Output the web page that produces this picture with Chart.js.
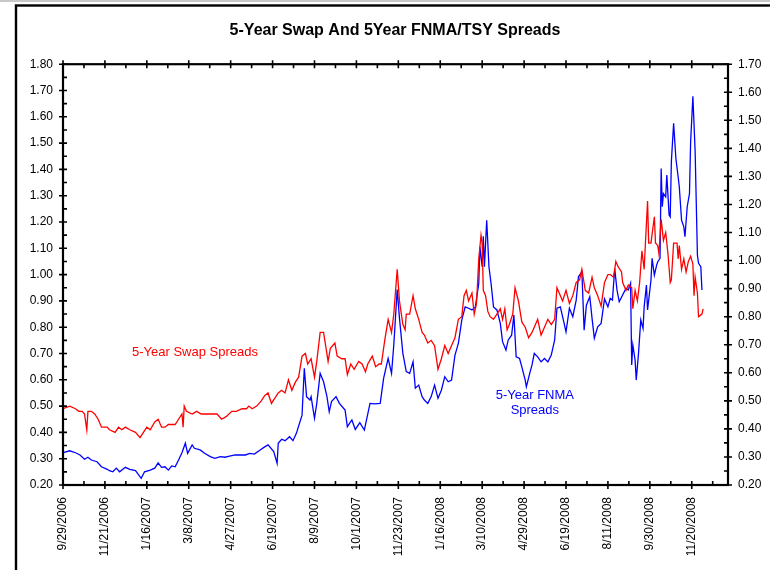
<!DOCTYPE html>
<html>
<head>
<meta charset="utf-8">
<title>5-Year Swap And 5Year FNMA/TSY Spreads</title>
<script src="https://cdn.jsdelivr.net/npm/chart.js@4.4.1/dist/chart.umd.min.js"></script>
<style>
  html, body { margin: 0; padding: 0; background: #fff; }
  #wrap { width: 770px; height: 570px; }
</style>
</head>
<body>
<div id="wrap"><canvas id="line-chart" width="770" height="570"></canvas></div>
<script>
// x = trading days since 9/29/2006, one label every 37 days
var tickStep = 37;
var dateLabels = ['9/29/2006', '11/21/2006', '1/16/2007', '3/8/2007', '4/27/2007', '6/19/2007',
  '8/9/2007', '10/1/2007', '11/23/2007', '1/16/2008', '3/10/2008', '4/29/2008',
  '6/19/2008', '8/11/2008', '9/30/2008', '11/20/2008'];
var leftTicks = [0.20, 0.30, 0.40, 0.50, 0.60, 0.70, 0.80, 0.90, 1.00, 1.10, 1.20, 1.30, 1.40, 1.50, 1.60, 1.70, 1.80];
var rightTicks = [0.20, 0.30, 0.40, 0.50, 0.60, 0.70, 0.80, 0.90, 1.00, 1.10, 1.20, 1.30, 1.40, 1.50, 1.60, 1.70];

// 5-Year swap spreads (left axis)
var swapSpread = [
  [0,0.49],[6,0.50],[11,0.49],[14,0.48],[17,0.48],[19,0.47],[21,0.41],[22,0.48],[25,0.48],[28,0.47],
  [31,0.45],[34,0.42],[39,0.42],[41,0.41],[46,0.40],[49,0.42],[52,0.41],[55,0.42],[59,0.41],[64,0.40],
  [68,0.38],[71,0.40],[74,0.42],[77,0.41],[81,0.44],[84,0.45],[87,0.42],[90,0.42],[93,0.43],[96,0.43],
  [99,0.43],[102,0.45],[105,0.47],[106,0.42],[107,0.50],[109,0.48],[114,0.47],[118,0.48],[122,0.47],[127,0.47],
  [131,0.47],[136,0.47],[140,0.45],[144,0.46],[149,0.48],[153,0.48],[158,0.49],[162,0.49],[164,0.50],[167,0.49],
  [171,0.50],[175,0.52],[178,0.54],[181,0.55],[184,0.51],[187,0.53],[190,0.55],[193,0.56],[196,0.55],[199,0.60],
  [202,0.56],[205,0.59],[208,0.61],[211,0.69],[214,0.70],[216,0.66],[219,0.68],[222,0.61],[224,0.67],[227,0.78],
  [230,0.78],[234,0.67],[236,0.72],[240,0.74],[242,0.69],[246,0.68],[249,0.68],[251,0.62],[254,0.66],[257,0.64],
  [261,0.67],[264,0.66],[267,0.63],[269,0.66],[273,0.69],[276,0.65],[279,0.66],[281,0.66],[284,0.75],[287,0.83],
  [290,0.78],[292,0.85],[295,1.02],[297,0.90],[300,0.81],[302,0.79],[303,0.85],[306,0.85],[309,0.92],[311,0.87],
  [314,0.83],[317,0.78],[319,0.77],[322,0.74],[325,0.75],[328,0.73],[331,0.64],[334,0.68],[337,0.73],[340,0.70],
  [343,0.73],[346,0.76],[349,0.83],[352,0.84],[354,0.92],[356,0.94],[358,0.90],[361,0.93],[363,0.85],[365,0.89],
  [367,1.06],[369,1.15],[370,1.12],[371,0.94],[373,0.92],[375,0.86],[377,0.84],[380,0.83],[383,0.85],[386,0.87],
  [388,0.83],[390,0.87],[392,0.79],[394,0.81],[397,0.85],[399,0.95],[402,0.90],[405,0.82],[408,0.80],[411,0.76],
  [414,0.78],[416,0.80],[419,0.83],[422,0.77],[425,0.80],[428,0.83],[431,0.81],[434,0.83],[436,0.95],[438,0.93],
  [441,0.90],[444,0.94],[447,0.89],[450,0.92],[453,0.97],[456,0.98],[458,1.02],[461,0.94],[464,0.93],[467,0.99],
  [469,0.95],[472,0.92],[475,0.88],[478,0.97],[481,1.00],[483,1.00],[486,0.99],[488,1.05],[490,1.03],[493,1.01],
  [494,0.97],[497,0.94],[499,0.96],[502,0.95],[503,0.87],[505,0.94],[507,0.90],[509,0.97],[511,1.09],[513,1.02],
  [514,1.11],[516,1.28],[517,1.12],[519,1.12],[522,1.22],[523,1.12],[525,1.11],[526,1.08],[528,1.21],[530,1.13],
  [532,1.16],[534,1.08],[536,0.97],[537,0.98],[539,1.12],[542,1.12],[543,1.06],[544,1.11],[546,1.02],[548,1.06],
  [550,1.01],[552,1.05],[554,1.07],[556,1.04],[557,0.92],[558,0.99],[560,0.93],[561,0.84],[564,0.85],[565,0.87]
];

// 5-Year FNMA spreads (right axis)
var fnmaSpread = [
  [0,0.315],[6,0.322],[11,0.315],[15,0.307],[19,0.292],[22,0.299],[25,0.289],[30,0.283],[34,0.265],[39,0.256],
  [41,0.251],[44,0.247],[47,0.26],[50,0.247],[55,0.263],[59,0.256],[64,0.251],[69,0.224],[72,0.247],[77,0.253],
  [81,0.26],[84,0.279],[87,0.263],[90,0.265],[93,0.253],[96,0.268],[99,0.265],[102,0.289],[105,0.315],[108,0.349],
  [110,0.313],[114,0.343],[116,0.331],[121,0.325],[125,0.313],[130,0.301],[134,0.295],[139,0.301],[143,0.299],[147,0.303],
  [152,0.307],[156,0.307],[161,0.307],[165,0.313],[169,0.31],[174,0.325],[178,0.336],[181,0.343],[186,0.319],[189,0.277],
  [190,0.349],[193,0.363],[196,0.358],[200,0.372],[203,0.358],[206,0.384],[211,0.449],[213,0.616],[215,0.515],[218,0.503],
  [219,0.515],[222,0.438],[224,0.491],[227,0.598],[230,0.568],[233,0.515],[235,0.461],[237,0.497],[241,0.515],[244,0.491],
  [249,0.467],[251,0.408],[255,0.432],[258,0.398],[262,0.422],[266,0.396],[271,0.491],[275,0.489],[280,0.491],[283,0.58],
  [287,0.651],[290,0.598],[292,0.70],[295,0.897],[297,0.795],[300,0.669],[303,0.604],[306,0.598],[309,0.639],[311,0.545],
  [314,0.556],[317,0.515],[319,0.503],[322,0.491],[325,0.515],[328,0.556],[331,0.509],[334,0.538],[337,0.586],[340,0.568],
  [343,0.574],[346,0.663],[349,0.705],[352,0.788],[355,0.835],[358,0.83],[361,0.824],[364,0.835],[367,0.919],[368,1.049],
  [370,0.978],[371,1.087],[372,0.978],[374,1.144],[376,0.978],[378,0.913],[380,0.835],[383,0.824],[386,0.776],[388,0.711],
  [391,0.681],[393,0.717],[396,0.734],[398,0.806],[400,0.657],[403,0.651],[405,0.621],[408,0.574],[409,0.55],[412,0.598],
  [414,0.628],[416,0.669],[419,0.657],[422,0.639],[425,0.651],[428,0.639],[431,0.663],[434,0.717],[436,0.83],[439,0.835],
  [442,0.782],[444,0.746],[447,0.83],[450,0.80],[453,0.859],[455,0.942],[458,0.96],[460,0.752],[462,0.841],[465,0.871],
  [467,0.794],[469,0.723],[472,0.764],[475,0.776],[478,0.863],[481,0.835],[483,0.865],[485,0.859],[487,0.972],[489,0.895],
  [491,0.853],[494,0.877],[497,0.901],[499,0.895],[501,0.919],[502,0.628],[503,0.699],[505,0.645],[506,0.574],[508,0.669],
  [510,0.788],[512,0.758],[513,0.835],[515,0.913],[516,0.824],[519,0.93],[520,1.008],[522,0.948],[524,0.984],[525,0.996],
  [527,1.008],[528,1.328],[529,1.192],[530,1.239],[532,1.227],[533,1.305],[535,1.162],[536,1.156],[537,1.352],[539,1.489],
  [541,1.364],[543,1.298],[544,1.263],[546,1.144],[548,1.12],[549,1.085],[551,1.192],[553,1.239],[554,1.423],[556,1.586],
  [558,1.388],[560,1.019],[561,0.99],[563,0.978],[564,0.895]
];

var fontName = "'Liberation Sans', Arial, sans-serif";

// white page, grey strip and the black outer frame
var pageFrame = {
  id: 'pageFrame',
  beforeDraw: function(chart) {
    var ctx = chart.ctx;
    ctx.save();
    ctx.fillStyle = '#fff';
    ctx.fillRect(0, 0, chart.width, chart.height);
    ctx.fillStyle = '#c8c8c8';
    ctx.fillRect(0, 0, chart.width, 2);
    ctx.strokeStyle = '#000';
    ctx.lineWidth = 2.4;
    ctx.strokeRect(16, 5.5, chart.width + 20, chart.height + 20);
    ctx.restore();
  }
};

// box round the plot with crossing major ticks and inside minor ticks
var axisBox = {
  id: 'axisBox',
  afterDatasetsDraw: function(chart) {
    var ctx = chart.ctx, a = chart.chartArea;
    var sx = chart.scales.x, sl = chart.scales.y, sr = chart.scales.y2;
    var big = 4, small = 4;
    ctx.save();
    ctx.strokeStyle = '#000';
    ctx.lineWidth = 1.6;
    ctx.beginPath();
    for (var i = 0; i < dateLabels.length; i++) {
      var px = sx.getPixelForValue(i * tickStep);
      ctx.moveTo(px, a.bottom - big); ctx.lineTo(px, a.bottom + big);
      ctx.moveTo(px, a.top - big); ctx.lineTo(px, a.top + big);
      var mx = sx.getPixelForValue(i * tickStep + tickStep / 2);
      if (mx < a.right - 2) {
        ctx.moveTo(mx, a.bottom); ctx.lineTo(mx, a.bottom - small);
        ctx.moveTo(mx, a.top); ctx.lineTo(mx, a.top + small);
      }
    }
    leftTicks.forEach(function(v, j) {
      var py = sl.getPixelForValue(v);
      ctx.moveTo(a.left - big, py); ctx.lineTo(a.left + big, py);
      if (j < leftTicks.length - 1) {
        var my = sl.getPixelForValue(v + 0.05);
        ctx.moveTo(a.left, my); ctx.lineTo(a.left + small, my);
      }
    });
    rightTicks.forEach(function(v, j) {
      var py = sr.getPixelForValue(v);
      ctx.moveTo(a.right - big, py); ctx.lineTo(a.right + big, py);
      if (j < rightTicks.length - 1) {
        var my = sr.getPixelForValue(v + 0.05);
        ctx.moveTo(a.right, my); ctx.lineTo(a.right - small, my);
      }
    });
    ctx.stroke();
    ctx.lineWidth = 2.2;
    ctx.strokeRect(a.left, a.top, a.right - a.left, a.bottom - a.top);
    ctx.restore();
  }
};

// series names written inside the plot
var seriesNotes = {
  id: 'seriesNotes',
  afterDatasetsDraw: function(chart) {
    var ctx = chart.ctx, sx = chart.scales.x, sl = chart.scales.y;
    ctx.save();
    ctx.font = '13px ' + fontName;
    ctx.textAlign = 'center';
    ctx.textBaseline = 'middle';
    ctx.fillStyle = '#ff0000';
    ctx.fillText('5-Year Swap Spreads', sx.getPixelForValue(116.5), sl.getPixelForValue(0.705));
    ctx.fillStyle = '#0000ff';
    ctx.fillText('5-Year FNMA', sx.getPixelForValue(416.5), sl.getPixelForValue(0.542));
    ctx.fillText('Spreads', sx.getPixelForValue(416.5), sl.getPixelForValue(0.485));
    ctx.restore();
  }
};

new Chart(document.getElementById('line-chart'), {
  type: 'line',
  data: {
    datasets: [{
      label: '5-Year Swap Spreads',
      data: swapSpread.map(function(p) { return {x: p[0], y: p[1]}; }),
      borderColor: '#ff0000',
      borderWidth: 1.3,
      pointRadius: 0,
      fill: false,
      yAxisID: 'y'
    }, {
      label: '5-Year FNMA Spreads',
      data: fnmaSpread.map(function(p) { return {x: p[0], y: p[1]}; }),
      borderColor: '#0000ff',
      borderWidth: 1.3,
      pointRadius: 0,
      fill: false,
      yAxisID: 'y2'
    }]
  },
  options: {
    responsive: false,
    animation: false,
    layout: { padding: { left: 20, right: 0, top: 0, bottom: 0 } },
    plugins: {
      legend: { display: false },
      tooltip: { enabled: false },
      title: {
        display: true,
        text: '5-Year Swap And 5Year FNMA/TSY Spreads',
        color: '#000',
        font: { family: fontName, size: 16, weight: 'bold', lineHeight: 1.2 },
        padding: { top: 21, bottom: 24 }
      }
    },
    scales: {
      x: {
        type: 'linear',
        min: 0,
        max: 587,
        afterBuildTicks: function(scale) {
          scale.ticks = dateLabels.map(function(l, i) { return {value: i * tickStep}; });
        },
        afterFit: function(scale) { scale.height = 85; },
        grid: { display: false, drawTicks: false },
        border: { display: false },
        ticks: {
          autoSkip: false,
          maxRotation: 90,
          minRotation: 90,
          padding: 12,
          color: '#000',
          font: { family: fontName, size: 12 },
          callback: function(v, i) { return dateLabels[i]; }
        }
      },
      y: {
        position: 'left',
        min: 0.2,
        max: 1.8,
        afterBuildTicks: function(scale) {
          scale.ticks = leftTicks.map(function(v) { return {value: v}; });
        },
        afterFit: function(scale) { scale.width = 43; },
        grid: { display: false, drawTicks: false },
        border: { display: false },
        ticks: {
          padding: 10,
          color: '#000',
          font: { family: fontName, size: 12 },
          callback: function(v) { return v.toFixed(2); }
        }
      },
      y2: {
        position: 'right',
        min: 0.2,
        max: 1.7,
        afterBuildTicks: function(scale) {
          scale.ticks = rightTicks.map(function(v) { return {value: v}; });
        },
        afterFit: function(scale) { scale.width = 42; },
        grid: { display: false, drawTicks: false },
        border: { display: false },
        ticks: {
          padding: 10,
          color: '#000',
          font: { family: fontName, size: 12 },
          callback: function(v) { return v.toFixed(2); }
        }
      }
    }
  },
  plugins: [pageFrame, axisBox, seriesNotes]
});
</script>
</body>
</html>
